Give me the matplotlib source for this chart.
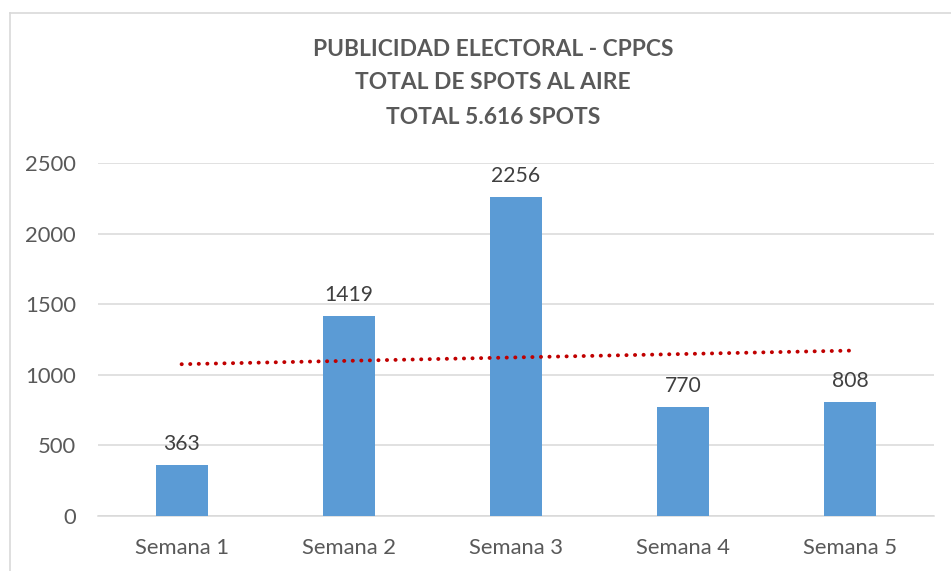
import matplotlib
matplotlib.use("Agg")
import matplotlib.pyplot as plt
import numpy as np
from matplotlib.lines import Line2D

categories = ["Semana 1", "Semana 2", "Semana 3", "Semana 4", "Semana 5"]
values = [363, 1419, 2256, 770, 808]
yticks = [0, 500, 1000, 1500, 2000, 2500]
title_lines = ["PUBLICIDAD ELECTORAL - CPPCS", "TOTAL DE SPOTS AL AIRE", "TOTAL 5.616 SPOTS"]

plt.rcParams['font.family'] = ['Lato', 'DejaVu Sans']

W, H = 951, 571
fig = plt.figure(figsize=(W / 100, H / 100), dpi=100)
ax = fig.add_axes([98 / W, 1 - 516 / H, (934 - 98) / W, (516 - 163) / H])

x = np.arange(1, len(values) + 1)
ax.bar(x, values, width=0.31, color="#5B9BD5", zorder=3)
for xi, v in zip(x, values):
    ax.annotate(str(v), (xi, v), xytext=(0, 8), textcoords="offset points",
                ha="center", va="bottom", fontsize=15.2, color="#404040")

# linear trendline
coef = np.polyfit(x, values, 1)
xt = np.array([x[0], x[-1]])
ax.plot(xt, np.polyval(coef, xt), color="#C00000", linewidth=2.8,
        linestyle=(0, (0.05, 2.15)), dash_capstyle="round", zorder=4)

ax.set_xlim(0.5, len(values) + 0.5)
ax.set_ylim(0, 2500)
ax.set_yticks(yticks)
ax.set_xticks(x)
ax.set_xticklabels(categories)
ax.tick_params(axis="both", length=0, labelsize=15.8, labelcolor="#595959")
ax.tick_params(axis="y", pad=16)
ax.tick_params(axis="x", pad=16)
ax.grid(axis="y", color="#D9D9D9", linewidth=1.1, zorder=0)
for s in ["top", "right", "left"]:
    ax.spines[s].set_visible(False)
ax.spines["bottom"].set_color("#D9D9D9")
ax.spines["bottom"].set_linewidth(1.1)

for i, line in enumerate(title_lines):
    fig.text(493 / W, 1 - (49 + 34 * i) / H, line, ha="center", va="center",
             fontsize=16.4, fontweight="bold", color="#595959")

# chart-area border (cropped)
fig.add_artist(Line2D([9.5 / W, 9.5 / W], [0, 1 - 12.5 / H], transform=fig.transFigure,
                      color="#D9D9D9", linewidth=1.2))
fig.add_artist(Line2D([9.5 / W, 1], [1 - 12.5 / H, 1 - 12.5 / H], transform=fig.transFigure,
                      color="#D9D9D9", linewidth=1.2))

fig.savefig("out.png", dpi=100)
